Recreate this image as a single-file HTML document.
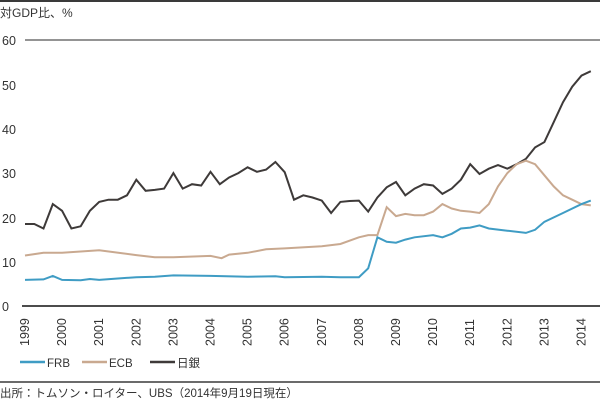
<!DOCTYPE html>
<html><head><meta charset="utf-8"><style>
body{margin:0;background:#fff;}
svg{display:block;font-family:"Liberation Sans","Noto Sans CJK JP",sans-serif;}
</style></head><body>
<svg id="s" width="600" height="402" viewBox="0 0 600 402" xmlns="http://www.w3.org/2000/svg">
<line x1="0" y1="1" x2="600" y2="1" stroke="#3a3a3a" stroke-width="2"/>
<text x="0" y="17" font-size="12" fill="#333">対GDP比、%</text>
<line x1="25" y1="40" x2="600" y2="40" stroke="#555" stroke-width="1.3"/>
<line x1="22" y1="306" x2="600" y2="306" stroke="#333" stroke-width="1.8"/>
<g font-size="12.5" fill="#333">
<text x="2" y="45">60</text><text x="2" y="90">50</text><text x="2" y="134">40</text>
<text x="2" y="178">30</text><text x="2" y="223">20</text><text x="2" y="267">10</text>
<text x="2" y="311">0</text>
</g>
<g id="yr" font-size="12.5" fill="#333"></g>
<polyline id="jp" fill="none" stroke="#3e3a39" stroke-width="2"/>
<polyline id="ecb" fill="none" stroke="#c9a990" stroke-width="2"/>
<polyline id="frb" fill="none" stroke="#3f9cc4" stroke-width="2"/>
<line x1="20" y1="362" x2="45" y2="362" stroke="#3f9cc4" stroke-width="2.5"/>
<text x="47" y="367" font-size="11.5" fill="#333">FRB</text>
<line x1="82" y1="362" x2="107" y2="362" stroke="#c9a990" stroke-width="2.5"/>
<text x="109" y="367" font-size="11.5" fill="#333">ECB</text>
<line x1="150" y1="362" x2="175" y2="362" stroke="#3e3a39" stroke-width="2.5"/>
<text x="177" y="367" font-size="11.5" fill="#333">日銀</text>
<line x1="0" y1="382" x2="600" y2="382" stroke="#3a3a3a" stroke-width="1.5"/>
<text x="0" y="397" font-size="11.5" fill="#333">出所：トムソン・ロイター、UBS（2014年9月19日現在）</text>
</svg>
<script>
function X(t){return 25+37.1*(t-1999);}function Y(v){return 306-4.43*v;}
var g=document.getElementById('yr'),h='';
for(var y=1999;y<=2014;y++){var x=X(y)+4;h+='<text transform="translate('+x+',346) rotate(-90)">'+y+'</text>';}
g.innerHTML=h;
function P(id,d){var a=[];for(var i=0;i<d.length;i+=2)a.push(X(d[i]).toFixed(1)+','+Y(d[i+1]).toFixed(1));document.getElementById(id).setAttribute('points',a.join(' '));}
P('jp',[1999,18.5,1999.25,18.5,1999.5,17.5,1999.75,23,2000,21.5,2000.25,17.5,2000.5,18,2000.75,21.5,2001,23.5,2001.25,24,2001.5,24,2001.75,25,2002,28.5,2002.25,26,2002.5,26.2,2002.75,26.5,2003,30,2003.25,26.5,2003.5,27.5,2003.75,27.2,2004,30.3,2004.25,27.5,2004.5,29,2004.75,30,2005,31.3,2005.25,30.3,2005.5,30.8,2005.75,32.5,2006,30.2,2006.25,24,2006.5,25,2006.75,24.5,2007,23.8,2007.25,21,2007.5,23.5,2007.75,23.7,2008,23.8,2008.25,21.3,2008.5,24.5,2008.75,26.8,2009,28,2009.25,25,2009.5,26.5,2009.75,27.5,2010,27.2,2010.25,25.3,2010.5,26.5,2010.75,28.5,2011,32,2011.25,29.8,2011.5,31,2011.75,31.8,2012,31,2012.25,32,2012.5,33.2,2012.75,35.8,2013,37,2013.25,41.5,2013.5,46,2013.75,49.5,2014,52,2014.25,53]);
P('ecb',[1999,11.4,1999.5,12,2000,12,2001,12.6,2002,11.5,2002.5,11,2003,11,2004,11.3,2004.3,10.8,2004.5,11.6,2005,12,2005.5,12.8,2006,13,2007,13.5,2007.5,14,2008,15.5,2008.25,16,2008.5,16,2008.75,22.3,2009,20.3,2009.25,20.8,2009.5,20.5,2009.75,20.5,2010,21.3,2010.25,23,2010.5,22,2010.75,21.5,2011,21.3,2011.25,21,2011.5,23,2011.75,27,2012,30,2012.25,32,2012.5,32.8,2012.75,32,2013,29.5,2013.25,27,2013.5,25,2013.75,24,2014,23,2014.25,22.7]);
P('frb',[1999,5.9,1999.5,6,1999.75,6.8,2000,5.9,2000.5,5.8,2000.75,6.1,2001,5.9,2001.5,6.2,2002,6.5,2002.5,6.6,2003,6.9,2004,6.8,2005,6.6,2005.75,6.7,2006,6.5,2007,6.6,2007.5,6.5,2008,6.5,2008.25,8.5,2008.5,15.5,2008.75,14.5,2009,14.3,2009.25,15,2009.5,15.5,2010,16,2010.25,15.5,2010.5,16.3,2010.75,17.5,2011,17.7,2011.25,18.2,2011.5,17.5,2012,17,2012.5,16.5,2012.75,17.2,2013,19,2013.5,21,2014,23,2014.25,23.8]);
</script>
</body></html>
